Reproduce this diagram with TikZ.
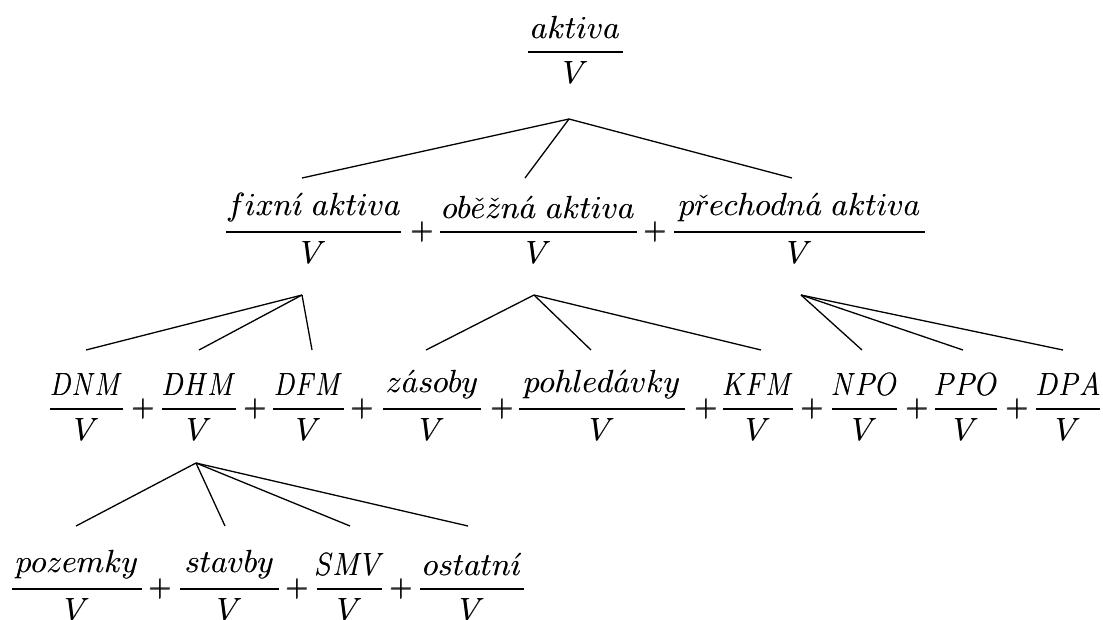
\documentclass[tikz,border=0pt]{standalone}
\usepackage{fix-cm}
\usepackage{amsmath}
\usepackage{graphicx}
\setlength\nulldelimiterspace{0pt}
% slightly heavier glyphs: two copies, a hair apart
\newcommand\thick[1]{\rlap{#1}\kern0.45pt\raisebox{0.25pt}{#1}}
% share of an item in V: numerator set in a box of fixed width (bar width),
% optionally squeezed horizontally
\newcommand\share[3][1]{\(\genfrac{}{}{2.8pt}{0}{\makebox[#2pt]{\scalebox{#1}[1]{\thick{\(#3\)}}}}{\mbox{\thick{\(V\)}}}\)}
\newcommand\plussign{\thick{\(+\)}}
\begin{document}
\begin{tikzpicture}[x=1pt,y=-1pt,
  font=\fontsize{32}{38}\selectfont,
  ratio/.style={inner sep=0pt,anchor=base},
  plus/.style={inner sep=0pt,anchor=base},
  link/.style={line width=1.3pt}]
\useasboundingbox (0,0) rectangle (1103,619);

% level 0
\node[ratio] (aktiva) at (575.5,60) {\share{95}{aktiva}};

% level 1
\node[ratio] (fixni) at (313.5,240) {\share{175}{fixn\acute{\imath}\ aktiva}};
\node[plus] (p11) at (422,240) {\plussign};
\node[ratio] (obezna) at (538.5,240) {\share{197}{ob\check{e}\check{z}n\acute{a}\ aktiva}};
\node[plus] (p12) at (655,240) {\plussign};
\node[ratio] (prechodna) at (799.5,240) {\share{251}{p\check{r}echodn\acute{a}\ aktiva}};

% level 2
\node[ratio] (DNM) at (86.5,417) {\share[0.81]{73}{DNM}};
\node[plus] (p21) at (143,417) {\plussign};
\node[ratio] (DHM) at (199,417) {\share[0.83]{74}{DHM}};
\node[plus] (p22) at (255,417) {\plussign};
\node[ratio] (DFM) at (308.5,417) {\share[0.8]{71}{DFM}};
\node[plus] (p23) at (362,417) {\plussign};
\node[ratio] (zasoby) at (432,417) {\share{98}{z\acute{a}soby}};
\node[plus] (p24) at (502,417) {\plussign};
\node[ratio] (pohledavky) at (602,417) {\share{166}{pohled\acute{a}vky}};
\node[plus] (p25) at (706,417) {\plussign};
\node[ratio] (KFM) at (758,417) {\share[0.81]{70}{KFM}};
\node[plus] (p26) at (812,417) {\plussign};
\node[ratio] (NPO) at (864.5,417) {\share[0.85]{65}{NPO}};
\node[plus] (p27) at (917,417) {\plussign};
\node[ratio] (PPO) at (966,417) {\share[0.86]{62}{PPO}};
\node[plus] (p28) at (1017,417) {\plussign};
\node[ratio] (DPA) at (1068,417) {\share[0.85]{64}{DPA}};

% level 3
\node[ratio] (pozemky) at (77,597) {\share{130}{pozemky}};
\node[plus] (p31) at (160,597) {\plussign};
\node[ratio] (stavby) at (229.5,597) {\share{99}{stavby}};
\node[plus] (p32) at (297,597) {\plussign};
\node[ratio] (SMV) at (349.5,597) {\share[0.87]{65}{SMV}};
\node[plus] (p33) at (401,597) {\plussign};
\node[ratio] (ostatni) at (472,597) {\share{104}{ostatn\acute{\imath}}};

% branching points below each parent and entry points above each child
\coordinate (aktiva-out) at (569,119);
\coordinate (fixni-out) at (302,295);
\coordinate (obezna-out) at (534,295);
\coordinate (prechodna-out) at (801,295);
\coordinate (DHM-out) at (196,463);

\coordinate (fixni-in) at (302,178);
\coordinate (obezna-in) at (525,178);
\coordinate (prechodna-in) at (792,178);

\coordinate (DNM-in) at (86,350);
\coordinate (DHM-in) at (199,350);
\coordinate (DFM-in) at (312,350);
\coordinate (zasoby-in) at (426,350);
\coordinate (pohledavky-in) at (591,350);
\coordinate (KFM-in) at (761,350);
\coordinate (NPO-in) at (862,350);
\coordinate (PPO-in) at (963,350);
\coordinate (DPA-in) at (1063,350);

\coordinate (pozemky-in) at (76,526);
\coordinate (stavby-in) at (225,526);
\coordinate (SMV-in) at (350,526);
\coordinate (ostatni-in) at (468,526);

% connectors
\foreach \c in {fixni,obezna,prechodna}
  \draw[link] (aktiva-out) -- (\c-in);
\foreach \c in {DNM,DHM,DFM}
  \draw[link] (fixni-out) -- (\c-in);
\foreach \c in {zasoby,pohledavky,KFM}
  \draw[link] (obezna-out) -- (\c-in);
\foreach \c in {NPO,PPO,DPA}
  \draw[link] (prechodna-out) -- (\c-in);
\foreach \c in {pozemky,stavby,SMV,ostatni}
  \draw[link] (DHM-out) -- (\c-in);
\end{tikzpicture}
\end{document}
